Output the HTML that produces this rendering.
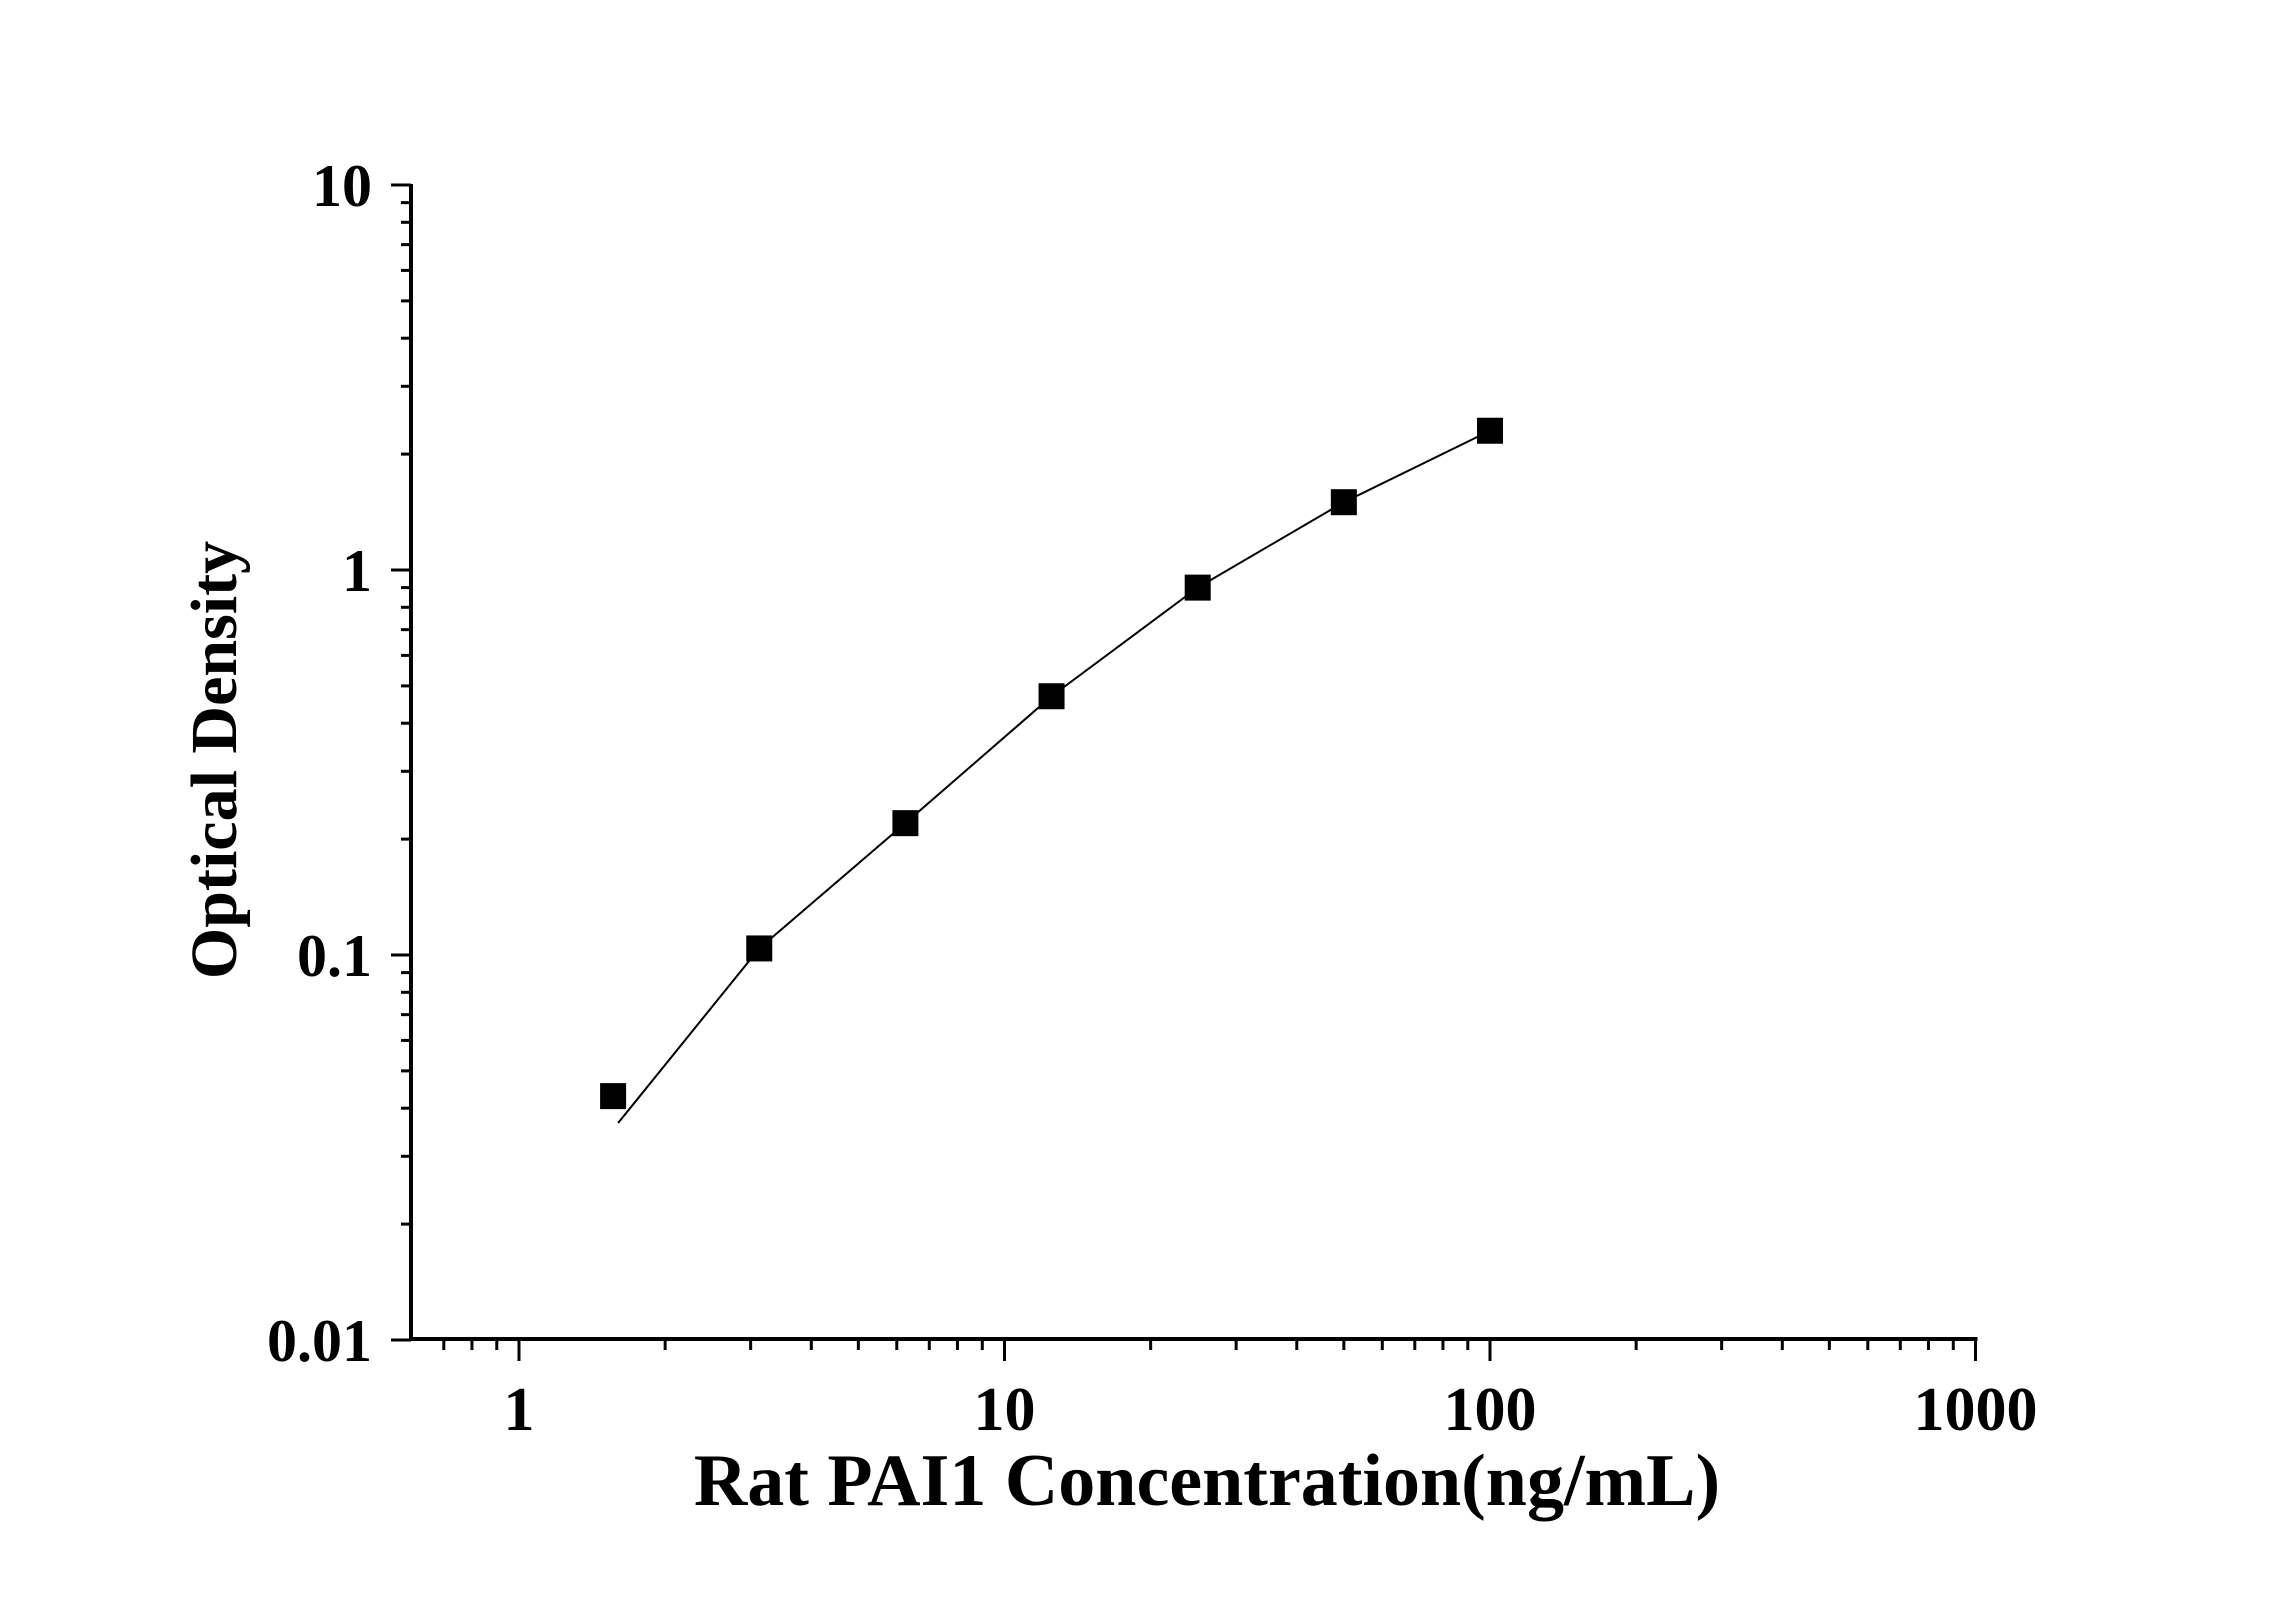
<!DOCTYPE html>
<html><head><meta charset="utf-8"><style>html,body{margin:0;padding:0;background:#fff}svg{display:block}</style></head>
<body>
<svg xmlns="http://www.w3.org/2000/svg" width="2296" height="1604" viewBox="0 0 2296 1604">
<rect width="2296" height="1604" fill="#fff"/>
<g id="g" stroke="#000" fill="none" stroke-width="3"></g>
<g font-family="'Liberation Serif', serif" font-weight="bold" fill="#000">
<g font-size="62" text-anchor="middle">
<text x="519" y="1430">1</text>
<text x="1004.5" y="1430">10</text>
<text x="1490" y="1430">100</text>
<text x="1975.5" y="1430">1000</text>
</g>
<g font-size="60" text-anchor="end">
<text x="372" y="206">10</text>
<text x="372" y="591">1</text>
<text x="372" y="976">0.1</text>
<text x="372" y="1361">0.01</text>
</g>
<text x="1207" y="1505" font-size="74" text-anchor="middle">Rat PAI1 Concentration(ng/mL)</text>
<text transform="translate(236,760) rotate(-90)" font-size="66" text-anchor="middle">Optical Density</text>
</g>
<script>
var g=document.getElementById('g'),ns='http://www.w3.org/2000/svg';
function X(v){return 519+485.5*Math.log10(v);}
function Y(v){return 570-385*Math.log10(v);}
function ln(a,b,c,d,w){var l=document.createElementNS(ns,'line');l.setAttribute('x1',a);l.setAttribute('y1',b);l.setAttribute('x2',c);l.setAttribute('y2',d);if(w)l.setAttribute('stroke-width',w);g.appendChild(l);}
var x0=411,y0=1339;
ln(x0,y0,X(1000)+2,y0,4);ln(x0,184,x0,y0+2,4);
[0.7,0.8,0.9].forEach(function(v){ln(X(v),y0,X(v),y0+11);});
for(var d=0;d<=3;d++){var b=Math.pow(10,d);ln(X(b),y0,X(b),y0+22);if(d<3)for(var k=2;k<=9;k++)ln(X(b*k),y0,X(b*k),y0+11);}
for(var d=-2;d<=1;d++){var b=Math.pow(10,d);ln(x0,Y(b),x0-20,Y(b));if(d<1)for(var k=2;k<=9;k++)ln(x0,Y(b*k),x0-10,Y(b*k));}
var pts=[[1.5625,0.043],[3.125,0.104],[6.25,0.22],[12.5,0.47],[25,0.9],[50,1.5],[100,2.3]];
var p=document.createElementNS(ns,'polyline');
var s=(X(1.6))+',1123 ';pts.slice(1).forEach(function(q){s+=X(q[0])+','+Y(q[1])+' ';});
p.setAttribute('points',s);p.setAttribute('stroke-width','2');g.appendChild(p);
pts.forEach(function(q){var r=document.createElementNS(ns,'rect');r.setAttribute('x',X(q[0])-13);r.setAttribute('y',Y(q[1])-13);r.setAttribute('width',26);r.setAttribute('height',26);r.setAttribute('fill','#000');r.setAttribute('stroke','none');g.appendChild(r);});
</script>
</svg>
</body></html>
